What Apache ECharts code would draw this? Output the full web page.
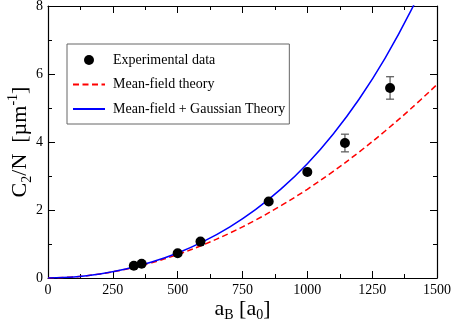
<!DOCTYPE html>
<html>
<head>
<meta charset="utf-8">
<script src="https://cdn.jsdelivr.net/npm/echarts@6/dist/echarts.min.js"></script>
<style>
html,body{margin:0;padding:0;background:#fff;}
#chart{width:452px;height:321px;}
</style>
</head>
<body>
<div id="chart"></div>
<script>
// Experimental data
var expA = [331, 361, 500, 588, 851, 1000, 1145, 1319];
var expC = [0.36, 0.42, 0.73, 1.07, 2.25, 3.12, 3.97, 5.59];
var expErr = [0.0, 0.0, 0.0, 0.0, 0.0, 0.0, 0.26, 0.33];
// Theory curves
var curveA = [0, 100, 200, 300, 400, 500, 600, 700, 800, 900, 1000, 1100, 1200, 1300, 1400, 1500];
var meanField = [0, 0.031, 0.119, 0.259, 0.450, 0.690, 0.980, 1.317, 1.702, 2.134, 2.610, 3.137, 3.707, 4.323, 4.984, 5.690];
var gaussian = [0, 0.031, 0.120, 0.265, 0.469, 0.737, 1.077, 1.497, 2.010, 2.627, 3.361, 4.237, 5.264, 6.468, 7.869, 9.490];
// Axes
var xTicks = [0, 250, 500, 750, 1000, 1250, 1500];
var yTicks = [0, 2, 4, 6, 8];
var seriesNames = ['Experimental data', 'Mean-field theory', 'Mean-field + Gaussian Theory'];

var FONT = '"Liberation Serif", "Times New Roman", serif';

function pairs(xs, ys) { return xs.map(function (x, i) { return [x, ys[i]]; }); }

var chart = echarts.init(document.getElementById('chart'), null, {renderer: 'canvas'});

var axisLineStyle = {color: '#000', width: 1.2};
function xAxisCfg(pos, showLabel, name) {
  return {
    type: 'value', position: pos,
    min: xTicks[0], max: xTicks[xTicks.length - 1], interval: xTicks[1] - xTicks[0],
    axisLine: {show: true, onZero: false, lineStyle: axisLineStyle},
    axisTick: {show: true, inside: true, length: 7, lineStyle: {color: '#000', width: 1}},
    minorTick: {show: true, splitNumber: 2, length: 4, lineStyle: {color: '#000', width: 1}},
    splitLine: {show: false},
    axisLabel: {show: showLabel, fontFamily: FONT, fontSize: 14, color: '#000', margin: 5,
      formatter: function (v) { return String(v); }},
    name: name || '',
    nameLocation: 'middle', nameGap: 18, nameMoveOverlap: false,
    nameTextStyle: {
      fontFamily: FONT, color: '#000',
      rich: {
        m: {fontFamily: FONT, fontSize: 22, color: '#000', lineHeight: 26, verticalAlign: 'middle'},
        sub: {fontFamily: FONT, fontSize: 14, color: '#000', lineHeight: 10, verticalAlign: 'bottom'}
      }
    }
  };
}
function yAxisCfg(pos, showLabel, name) {
  return {
    type: 'value', position: pos,
    min: yTicks[0], max: yTicks[yTicks.length - 1], interval: yTicks[1] - yTicks[0],
    axisLine: {show: true, onZero: false, lineStyle: axisLineStyle},
    axisTick: {show: true, inside: true, length: 7, lineStyle: {color: '#000', width: 1}},
    minorTick: {show: true, splitNumber: 2, length: 4, lineStyle: {color: '#000', width: 1}},
    splitLine: {show: false},
    axisLabel: {show: showLabel, fontFamily: FONT, fontSize: 14, color: '#000', margin: 5,
      formatter: function (v) { return String(v); }},
    name: name || '',
    nameLocation: 'middle', nameGap: 14, nameMoveOverlap: false,
    nameTextStyle: {
      fontFamily: FONT, color: '#000',
      rich: {
        m: {fontFamily: FONT, fontSize: 22, color: '#000', lineHeight: 28, verticalAlign: 'middle'},
        sub: {fontFamily: FONT, fontSize: 14, color: '#000', lineHeight: 12, verticalAlign: 'bottom'},
        sup: {fontFamily: FONT, fontSize: 14, color: '#000', lineHeight: 14, verticalAlign: 'top'}
      }
    }
  };
}

var option = {
  animation: false,
  backgroundColor: '#fff',
  grid: {left: 48, right: 15, top: 6, bottom: 43, containLabel: false, outerBoundsMode: 'none'},
  xAxis: [
    xAxisCfg('bottom', true, '{m|a}{sub|B}{m| [a}{sub|0}{m|]}'),
    xAxisCfg('top', false, '')
  ],
  yAxis: [
    yAxisCfg('left', true, '{m|C}{sub|2}{m|/N  [µm}{sup|-1}{m|]}'),
    yAxisCfg('right', false, '')
  ],
  legend: {
    show: true,
    orient: 'vertical',
    left: 67, top: 44,
    padding: [9, 4, 8, 5],
    itemWidth: 32, itemHeight: 10, itemGap: 10.5,
    borderColor: '#666', borderWidth: 1, backgroundColor: '#fff',
    textStyle: {fontFamily: FONT, fontSize: 14, color: '#000', padding: [0, 0, 0, 3]},
    data: [
      {name: seriesNames[0], icon: 'circle'},
      {name: seriesNames[1], itemStyle: {opacity: 0}},
      {name: seriesNames[2], itemStyle: {opacity: 0}}
    ]
  },
  series: [
    {
      name: seriesNames[1], type: 'line', xAxisIndex: 0, yAxisIndex: 0,
      data: pairs(curveA, meanField), smooth: 0.35,
      symbol: 'none', clip: true,
      lineStyle: {color: '#ff0000', width: 1.5, type: [6, 3.5]},
      itemStyle: {color: '#ff0000'}, z: 3
    },
    {
      name: seriesNames[2], type: 'line', xAxisIndex: 0, yAxisIndex: 0,
      data: pairs(curveA, gaussian), smooth: 0.35,
      symbol: 'none', clip: true,
      lineStyle: {color: '#0000ff', width: 1.5},
      itemStyle: {color: '#0000ff'}, z: 3
    },
    {
      name: 'errors', type: 'custom', xAxisIndex: 0, yAxisIndex: 0,
      data: expA.map(function (a, i) { return [a, expC[i] - expErr[i], expC[i] + expErr[i]]; }),
      renderItem: function (params, api) {
        var lo = api.coord([api.value(0), api.value(1)]);
        var hi = api.coord([api.value(0), api.value(2)]);
        if (Math.abs(lo[1] - hi[1]) < 1) return null;
        var w = 4;
        var st = {stroke: '#555', lineWidth: 1.2, fill: null};
        return {
          type: 'group',
          children: [
            {type: 'line', shape: {x1: lo[0], y1: lo[1], x2: hi[0], y2: hi[1]}, style: st},
            {type: 'line', shape: {x1: lo[0] - w, y1: lo[1], x2: lo[0] + w, y2: lo[1]}, style: st},
            {type: 'line', shape: {x1: hi[0] - w, y1: hi[1], x2: hi[0] + w, y2: hi[1]}, style: st}
          ]
        };
      },
      z: 4, silent: true
    },
    {
      name: seriesNames[0], type: 'scatter', xAxisIndex: 0, yAxisIndex: 0,
      data: pairs(expA, expC), symbol: 'circle', symbolSize: 10,
      itemStyle: {color: '#000', opacity: 1}, z: 5
    }
  ]
};
chart.setOption(option);
</script>
</body>
</html>
